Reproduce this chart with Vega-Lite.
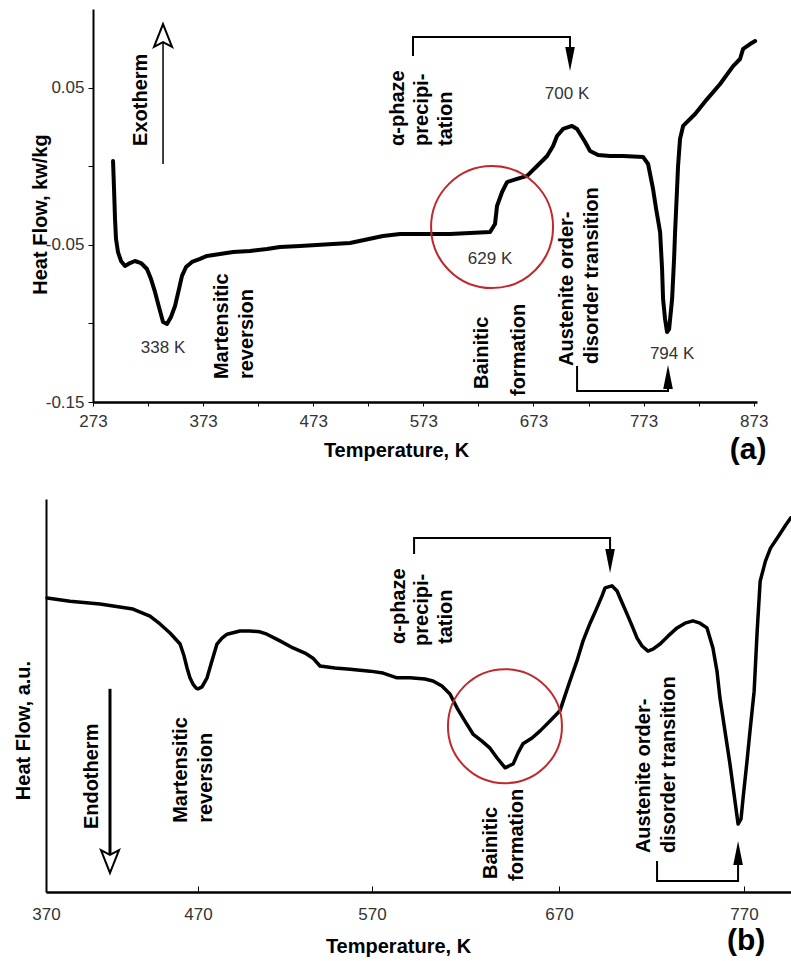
{
  "$schema": "https://vega.github.io/schema/vega-lite/v6.json",
  "background": "white",
  "padding": {"left": 13, "top": 9, "right": 0, "bottom": 0},
  "spacing": 34,
  "config": {
    "view": {"stroke": null},
    "font": "Liberation Sans",
    "axis": {
      "labelFont": "Liberation Sans",
      "titleFont": "Liberation Sans",
      "labelFontSize": 17,
      "labelColor": "#333333",
      "titleFontSize": 20,
      "titleFontWeight": "bold",
      "titleColor": "black",
      "tickColor": "black",
      "domainColor": "black",
      "grid": false,
      "labelFlush": false,
      "labelOverlap": false
    }
  },
  "vconcat": [
    {
      "width": 711,
      "height": 393,
      "encoding": {
        "x": {
          "field": "T", "type": "quantitative",
          "scale": {"domain": [273, 876], "range": [47, 711], "zero": false, "nice": false},
          "axis": {
            "title": "Temperature, K",
            "values": [273, 323, 373, 423, 473, 523, 573, 623, 673, 723, 773, 823, 873],
            "labelExpr": "(datum.value - 273) % 100 == 0 ? datum.label : ''",
            "domain": true, "domainWidth": 2.5, "tickSize": 4, "tickWidth": 1, "labelPadding": 7,
            "titleX": 350, "titleY": 54, "titleBaseline": "alphabetic"
          }
        },
        "y": {
          "field": "v", "type": "quantitative",
          "scale": {"domain": [-0.15, 0.1], "zero": false, "nice": false},
          "axis": {
            "title": "Heat Flow, kw/kg",
            "values": [-0.15, -0.1, -0.05, 0, 0.05],
            "labelExpr": "abs(round(datum.value*100)) % 10 == 5 ? (datum.value < 0 ? '-' : '') + format(abs(datum.value), '.2f') : ''",
            "offset": -47, "domain": true, "domainWidth": 2, "tickSize": 5, "tickWidth": 1, "labelPadding": 4,
            "titleX": -47, "titleY": 205, "titleBaseline": "alphabetic"
          }
        }
      },
      "layer": [
        {
          "data": {"values": [{}]},
          "mark": {"type": "rule", "color": "black", "strokeWidth": 2},
          "encoding": {"x": {"datum": 273}, "x2": {"datum": 876}, "y": {"datum": 0.1}}
        },
        {
          "data": {"values": [{}]},
          "mark": {"type": "rule", "color": "black", "strokeWidth": 2},
          "encoding": {"x": {"datum": 876}, "y": {"datum": -0.15}, "y2": {"datum": 0.1}}
        },
        {
          "data": {"values": [
            {"T": 291.2, "v": 0.0033}, {"T": 292.1, "v": -0.0145}, {"T": 293.0, "v": -0.0336}, {"T": 293.9, "v": -0.0463},
            {"T": 295.7, "v": -0.0546}, {"T": 298.4, "v": -0.0603}, {"T": 302.1, "v": -0.0635}, {"T": 306.6, "v": -0.0616},
            {"T": 311.1, "v": -0.0603}, {"T": 316.6, "v": -0.0616}, {"T": 322.0, "v": -0.0654}, {"T": 325.7, "v": -0.0718},
            {"T": 329.3, "v": -0.0800}, {"T": 332.9, "v": -0.0896}, {"T": 336.6, "v": -0.0991}, {"T": 340.2, "v": -0.1004},
            {"T": 343.8, "v": -0.0959}, {"T": 347.5, "v": -0.0889}, {"T": 351.1, "v": -0.0781}, {"T": 353.8, "v": -0.0698},
            {"T": 357.5, "v": -0.0641}, {"T": 362.9, "v": -0.0609}, {"T": 370.2, "v": -0.0590}, {"T": 376.5, "v": -0.0571},
            {"T": 388.3, "v": -0.0559}, {"T": 400.2, "v": -0.0546}, {"T": 415.6, "v": -0.0539}, {"T": 431.0, "v": -0.0527},
            {"T": 442.8, "v": -0.0514}, {"T": 461.0, "v": -0.0508}, {"T": 491.0, "v": -0.0495}, {"T": 506.4, "v": -0.0489},
            {"T": 536.4, "v": -0.0444}, {"T": 551.8, "v": -0.0431}, {"T": 597.2, "v": -0.0431}, {"T": 633.6, "v": -0.0419},
            {"T": 638.1, "v": -0.0368}, {"T": 639.9, "v": -0.0253}, {"T": 644.5, "v": -0.0164}, {"T": 649.0, "v": -0.0101},
            {"T": 658.1, "v": -0.0081}, {"T": 667.2, "v": -0.0062}, {"T": 676.3, "v": 0.0001}, {"T": 685.4, "v": 0.0065},
            {"T": 690.8, "v": 0.0128}, {"T": 694.4, "v": 0.0192}, {"T": 699.9, "v": 0.0237}, {"T": 708.0, "v": 0.0256},
            {"T": 712.6, "v": 0.0237}, {"T": 719.9, "v": 0.0154}, {"T": 724.4, "v": 0.0097}, {"T": 731.7, "v": 0.0071},
            {"T": 742.6, "v": 0.0065}, {"T": 754.4, "v": 0.0065}, {"T": 772.5, "v": 0.0059}, {"T": 777.1, "v": 0.0014},
            {"T": 781.6, "v": -0.0145}, {"T": 784.4, "v": -0.0272}, {"T": 788.0, "v": -0.0419}, {"T": 789.8, "v": -0.0654},
            {"T": 790.7, "v": -0.0845}, {"T": 792.5, "v": -0.0972}, {"T": 794.3, "v": -0.1055}, {"T": 796.2, "v": -0.1036},
            {"T": 798.9, "v": -0.0845}, {"T": 800.7, "v": -0.0590}, {"T": 801.6, "v": -0.0419}, {"T": 803.4, "v": -0.0145},
            {"T": 804.3, "v": 0.0001}, {"T": 806.1, "v": 0.0173}, {"T": 808.9, "v": 0.0256}, {"T": 819.8, "v": 0.0332},
            {"T": 830.7, "v": 0.0427}, {"T": 842.5, "v": 0.0523}, {"T": 854.3, "v": 0.0637}, {"T": 860.6, "v": 0.0682},
            {"T": 863.4, "v": 0.0746}, {"T": 869.7, "v": 0.0777}, {"T": 874.3, "v": 0.0796}
          ]},
          "mark": {"type": "line", "color": "black", "strokeWidth": 4, "strokeJoin": "round", "strokeCap": "round"}
        },
        {
          "data": {"values": [
            {"g": "top", "i": 0, "T": 563.6, "v": 0.0701}, {"g": "top", "i": 1, "T": 563.6, "v": 0.0822},
            {"g": "top", "i": 2, "T": 706.2, "v": 0.0822}, {"g": "top", "i": 3, "T": 706.2, "v": 0.0682},
            {"g": "bottom", "i": 0, "T": 712.6, "v": -0.1271}, {"g": "bottom", "i": 1, "T": 712.6, "v": -0.1430},
            {"g": "bottom", "i": 2, "T": 795.2, "v": -0.1430}, {"g": "bottom", "i": 3, "T": 795.2, "v": -0.1341}
          ]},
          "mark": {"type": "line", "color": "black", "strokeWidth": 2},
          "encoding": {"detail": {"field": "g"}, "order": {"field": "i"}}
        },
        {
          "data": {"values": [{"T": 336.6, "v": 0.0014, "v2": 0.079}]},
          "mark": {"type": "rule", "color": "black", "strokeWidth": 1.5},
          "encoding": {"y2": {"field": "v2"}}
        },
        {
          "data": {"values": [{"T": 336.6, "v": 0.0828}]},
          "mark": {"type": "point", "shape": "M0,-1L0.75,0.9L0,0.5L-0.75,0.9Z", "size": 576, "filled": false, "stroke": "black", "strokeWidth": 2, "opacity": 1}
        },
        {
          "data": {"values": [{"T": 706.2, "v": 0.0682, "dir": "down"}, {"T": 795.2, "v": -0.1341, "dir": "up"}]},
          "mark": {"type": "point", "size": 576, "filled": true, "color": "black", "opacity": 1},
          "encoding": {"shape": {"field": "dir", "type": "nominal", "scale": {"domain": ["down", "up"], "range": ["M-0.4,-1L0.4,-1L0,1Z", "M-0.4,1L0.4,1L0,-1Z"]}, "legend": null}}
        },
        {
          "data": {"values": [{"T": 635.4, "v": -0.0387}]},
          "mark": {"type": "point", "shape": "circle", "size": 14884, "filled": false, "stroke": "#c0282d", "strokeWidth": 2, "opacity": 1}
        },
        {
          "data": {"values": [
            {"label": "Exotherm", "T": 322.0, "v": 0.0129},
            {"label": "α-phaze", "T": 555.5, "v": 0.0129},
            {"label": "precipi-", "T": 577.3, "v": 0.0129},
            {"label": "tation", "T": 599.1, "v": 0.0129},
            {"label": "Martensitic", "T": 395.6, "v": -0.1354},
            {"label": "reversion", "T": 418.3, "v": -0.1354},
            {"label": "Bainitic", "T": 631.8, "v": -0.1417},
            {"label": "formation", "T": 665.4, "v": -0.1462},
            {"label": "Austenite order-", "T": 709.0, "v": -0.1271},
            {"label": "disorder transition", "T": 731.7, "v": -0.1258}
          ]},
          "mark": {"type": "text", "angle": 270, "align": "left", "baseline": "alphabetic", "font": "Liberation Sans", "fontSize": 20, "fontWeight": "bold", "color": "black"},
          "encoding": {"text": {"field": "label"}}
        },
        {
          "data": {"values": [
            {"label": "338 K", "T": 336.6, "v": -0.1157},
            {"label": "629 K", "T": 633.6, "v": -0.0590},
            {"label": "700 K", "T": 703.5, "v": 0.0459},
            {"label": "794 K", "T": 798.9, "v": -0.1195}
          ]},
          "mark": {"type": "text", "align": "center", "baseline": "middle", "font": "Liberation Sans", "fontSize": 17, "color": "#333333"},
          "encoding": {"text": {"field": "label"}}
        },
        {
          "data": {"values": [{"label": "(a)", "T": 867.9, "v": -0.1805}]},
          "mark": {"type": "text", "align": "center", "baseline": "middle", "font": "Liberation Sans", "fontSize": 30, "fontWeight": "bold", "color": "black"},
          "encoding": {"text": {"field": "label"}}
        }
      ]
    },
    {
      "width": 745,
      "height": 393,
      "encoding": {
        "x": {
          "field": "T", "type": "quantitative",
          "scale": {"domain": [370, 470, 570, 670, 770, 795], "range": [0, 152, 326, 513, 698, 745], "zero": false, "nice": false},
          "axis": {
            "title": "Temperature, K",
            "values": [370, 470, 570, 670, 770],
            "domain": true, "domainWidth": 2.5, "tickSize": -6, "tickWidth": 1, "labelPadding": 20,
            "titleX": 352, "titleY": 60, "titleBaseline": "alphabetic"
          }
        },
        "y": {
          "field": "v", "type": "quantitative",
          "scale": {"domain": [0, 100], "zero": false, "nice": false},
          "axis": {
            "title": "Heat Flow, a.u.",
            "domain": true, "domainWidth": 2, "ticks": false, "labels": false,
            "titleX": -17, "titleY": 231, "titleBaseline": "alphabetic"
          }
        }
      },
      "layer": [
        {
          "data": {"values": [{}]},
          "mark": {"type": "rule", "color": "black", "strokeWidth": 2},
          "encoding": {"x": {"datum": 370}, "x2": {"datum": 795}, "y": {"datum": 100}}
        },
        {
          "data": {"values": [
            {"T": 370.7, "v": 74.8}, {"T": 385.8, "v": 74.0}, {"T": 405.5, "v": 73.3}, {"T": 427.2, "v": 72.0},
            {"T": 438.4, "v": 70.2}, {"T": 445.0, "v": 68.2}, {"T": 451.6, "v": 65.9}, {"T": 458.2, "v": 63.1},
            {"T": 460.8, "v": 60.1}, {"T": 462.8, "v": 57.0}, {"T": 464.7, "v": 54.5}, {"T": 466.7, "v": 52.9},
            {"T": 468.7, "v": 51.9}, {"T": 470.0, "v": 51.7}, {"T": 472.3, "v": 52.2}, {"T": 475.2, "v": 54.5},
            {"T": 478.0, "v": 58.8}, {"T": 480.9, "v": 63.1}, {"T": 483.8, "v": 64.6}, {"T": 486.7, "v": 65.6},
            {"T": 494.1, "v": 66.4}, {"T": 499.9, "v": 66.4}, {"T": 505.6, "v": 66.2}, {"T": 509.6, "v": 65.6},
            {"T": 517.1, "v": 63.9}, {"T": 524.6, "v": 62.1}, {"T": 531.5, "v": 60.8}, {"T": 536.1, "v": 59.5},
            {"T": 540.1, "v": 57.5}, {"T": 548.7, "v": 57.0}, {"T": 557.4, "v": 56.7}, {"T": 568.9, "v": 56.2},
            {"T": 575.9, "v": 55.7}, {"T": 583.4, "v": 54.5}, {"T": 590.3, "v": 54.5}, {"T": 598.3, "v": 54.2},
            {"T": 602.6, "v": 53.7}, {"T": 607.4, "v": 52.4}, {"T": 611.7, "v": 50.4}, {"T": 615.5, "v": 46.8},
            {"T": 619.7, "v": 43.5}, {"T": 624.0, "v": 40.2}, {"T": 628.8, "v": 38.4}, {"T": 633.1, "v": 36.6},
            {"T": 636.9, "v": 34.1}, {"T": 641.2, "v": 31.6}, {"T": 645.5, "v": 32.6}, {"T": 648.1, "v": 35.4},
            {"T": 650.7, "v": 37.7}, {"T": 655.6, "v": 39.2}, {"T": 659.9, "v": 41.0}, {"T": 665.2, "v": 43.5},
            {"T": 670.5, "v": 46.1}, {"T": 673.2, "v": 49.9}, {"T": 675.9, "v": 53.7}, {"T": 679.7, "v": 58.8},
            {"T": 683.0, "v": 63.9}, {"T": 686.8, "v": 68.4}, {"T": 690.5, "v": 72.3}, {"T": 693.2, "v": 75.3},
            {"T": 694.9, "v": 77.4}, {"T": 698.6, "v": 77.9}, {"T": 701.4, "v": 76.6}, {"T": 703.0, "v": 74.8},
            {"T": 706.8, "v": 70.7}, {"T": 709.5, "v": 67.7}, {"T": 712.2, "v": 64.6}, {"T": 714.9, "v": 62.6},
            {"T": 718.1, "v": 61.3}, {"T": 720.8, "v": 61.8}, {"T": 724.6, "v": 63.1}, {"T": 728.9, "v": 65.1},
            {"T": 733.8, "v": 67.2}, {"T": 738.1, "v": 68.4}, {"T": 742.4, "v": 69.0}, {"T": 746.2, "v": 68.4},
            {"T": 750.0, "v": 67.2}, {"T": 753.2, "v": 62.1}, {"T": 755.4, "v": 56.2}, {"T": 757.0, "v": 49.4},
            {"T": 759.7, "v": 41.0}, {"T": 762.4, "v": 32.6}, {"T": 765.1, "v": 23.2}, {"T": 766.8, "v": 17.3},
            {"T": 768.4, "v": 18.6}, {"T": 769.5, "v": 23.9}, {"T": 771.6, "v": 33.3}, {"T": 773.2, "v": 41.0},
            {"T": 775.4, "v": 51.1}, {"T": 777.0, "v": 66.4}, {"T": 778.6, "v": 79.1}, {"T": 781.4, "v": 84.2},
            {"T": 784.1, "v": 87.5}, {"T": 788.4, "v": 90.6}, {"T": 792.2, "v": 93.4}, {"T": 794.9, "v": 95.2}
          ]},
          "mark": {"type": "line", "color": "black", "strokeWidth": 3.5, "strokeJoin": "round", "strokeCap": "round"}
        },
        {
          "data": {"values": [
            {"g": "top", "i": 0, "T": 592.5, "v": 86.0}, {"g": "top", "i": 1, "T": 592.5, "v": 90.1},
            {"g": "top", "i": 2, "T": 697.6, "v": 90.1}, {"g": "top", "i": 3, "T": 697.6, "v": 84.2},
            {"g": "bottom", "i": 0, "T": 723.0, "v": 7.9}, {"g": "bottom", "i": 1, "T": 723.0, "v": 2.8},
            {"g": "bottom", "i": 2, "T": 766.8, "v": 2.8}, {"g": "bottom", "i": 3, "T": 766.8, "v": 9.9}
          ]},
          "mark": {"type": "line", "color": "black", "strokeWidth": 2},
          "encoding": {"detail": {"field": "g"}, "order": {"field": "i"}}
        },
        {
          "data": {"values": [{"T": 412.1, "v": 51.7, "v2": 9.4}]},
          "mark": {"type": "rule", "color": "black", "strokeWidth": 3},
          "encoding": {"y2": {"field": "v2"}}
        },
        {
          "data": {"values": [{"T": 412.1, "v": 7.9}]},
          "mark": {"type": "point", "shape": "M0,1L0.75,-0.9L0,-0.5L-0.75,-0.9Z", "size": 576, "filled": false, "stroke": "black", "strokeWidth": 2, "opacity": 1}
        },
        {
          "data": {"values": [{"T": 697.6, "v": 84.2, "dir": "down"}, {"T": 766.8, "v": 9.9, "dir": "up"}]},
          "mark": {"type": "point", "size": 576, "filled": true, "color": "black", "opacity": 1},
          "encoding": {"shape": {"field": "dir", "type": "nominal", "scale": {"domain": ["down", "up"], "range": ["M-0.4,-1L0.4,-1L0,1Z", "M-0.4,1L0.4,1L0,-1Z"]}, "legend": null}}
        },
        {
          "data": {"values": [{"T": 641.1, "v": 42.2}]},
          "mark": {"type": "point", "shape": "circle", "size": 12996, "filled": false, "stroke": "#c0282d", "strokeWidth": 2, "opacity": 1}
        },
        {
          "data": {"values": [
            {"label": "Endotherm", "T": 404.2, "v": 16.0},
            {"label": "Martensitic", "T": 462.8, "v": 17.6},
            {"label": "reversion", "T": 478.0, "v": 17.6},
            {"label": "α-phaze", "T": 587.6, "v": 63.1},
            {"label": "precipi-", "T": 599.9, "v": 62.6},
            {"label": "tation", "T": 612.8, "v": 63.1},
            {"label": "Bainitic", "T": 636.8, "v": 3.3},
            {"label": "formation", "T": 650.7, "v": 2.8},
            {"label": "Austenite order-", "T": 719.2, "v": 9.9},
            {"label": "disorder transition", "T": 732.7, "v": 9.9}
          ]},
          "mark": {"type": "text", "angle": 270, "align": "left", "baseline": "alphabetic", "font": "Liberation Sans", "fontSize": 20, "fontWeight": "bold", "color": "black"},
          "encoding": {"text": {"field": "label"}}
        },
        {
          "data": {"values": [{"label": "(b)", "T": 771.1, "v": -12.5}]},
          "mark": {"type": "text", "align": "center", "baseline": "middle", "font": "Liberation Sans", "fontSize": 30, "fontWeight": "bold", "color": "black"},
          "encoding": {"text": {"field": "label"}}
        }
      ]
    }
  ]
}
